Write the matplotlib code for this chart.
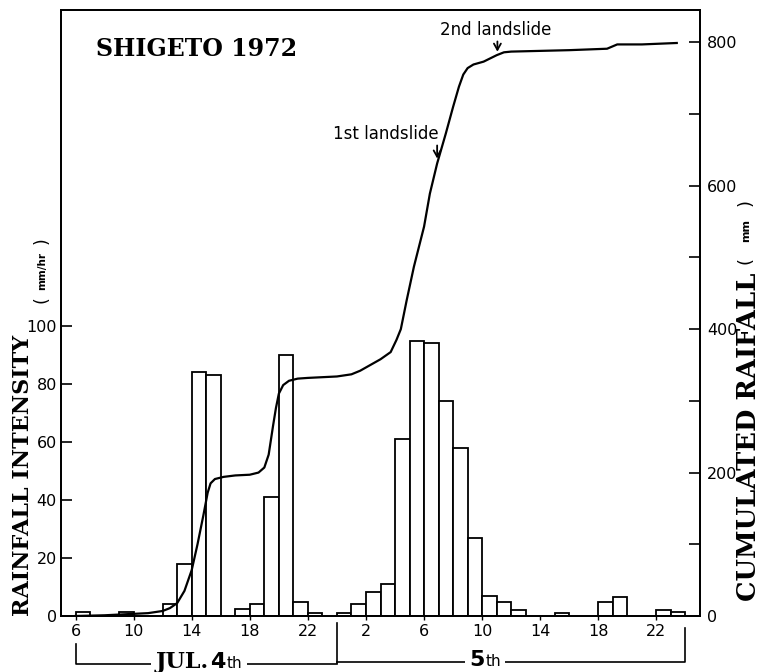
import matplotlib
matplotlib.use("Agg")
import matplotlib.pyplot as plt
from matplotlib.lines import Line2D
from matplotlib.transforms import blended_transform_factory
from matplotlib.offsetbox import TextArea, HPacker, AnnotationBbox

# Hourly rainfall intensity (mm/hr); each bar covers [hour, hour + 1)
# Hours are counted from 0:00 on July 4th (24 = 0:00 on July 5th)
bar_hours = [6, 9, 12, 13, 14, 15, 17, 18, 19, 20, 21, 22,
             24, 25, 26, 27, 28, 29, 30, 31, 32, 33, 34, 35, 36,
             39, 42, 43, 46, 47]
intensity = [1.5, 1.5, 4, 18, 84, 83, 2.3, 4.3, 41, 90, 5, 1.2,
             1, 4, 8.4, 11, 61, 95, 94, 74, 58, 27, 7, 5, 2.2,
             1, 5, 6.5, 2.2, 1.4]

# Cumulated rainfall curve (mm)
cum_hours = [6, 8, 10, 11, 12, 12.5, 13, 13.5, 14, 14.4, 14.8, 15.1, 15.3,
             15.6, 16.2, 17, 18, 18.6, 19, 19.3, 19.6, 19.8, 20.0, 20.3,
             20.7, 21.3, 22, 24, 25, 25.6, 26.3, 27, 27.7, 28.1, 28.4, 28.8,
             29.3, 30.0, 30.4, 30.9, 31.5, 32.0, 32.4, 32.7, 33.0, 33.4,
             34.1, 35.0, 35.5, 36, 38, 40, 42.6, 43.3, 45, 47.4]
cum_rain = [0, 1, 3, 4, 7, 11, 18, 35, 64, 100, 140, 172, 185,
            191, 194, 196, 197, 200, 207, 225, 265, 290, 310, 322,
            328, 331, 332, 334, 337, 342, 350, 358, 368, 385, 400, 440,
            487, 543, 589, 631, 673, 710, 738, 755, 764, 769,
            773, 782, 786, 787, 788, 789, 791, 797, 797, 799]

x_ticks = [6, 10, 14, 18, 22, 26, 30, 34, 38, 42, 46]
x_labels = ["6", "10", "14", "18", "22", "2", "6", "10", "14", "18", "22"]
left_ticks = [0, 20, 40, 60, 80, 100]
right_ticks = [0, 200, 400, 600, 800]
right_minor = [100, 300, 500, 700]

landslides = {"1st landslide": 30.9, "2nd landslide": 35.05}
day_bounds = [6, 24, 48]

W, H = 759, 672
fig = plt.figure(figsize=(W / 100, H / 100), dpi=100)
ax = fig.add_axes([61 / W, 1 - 616 / H, (700 - 61) / W, (616 - 10) / H])
ax.set_xlim(5, 49)
ax.set_ylim(0, 209)

ax.bar(bar_hours, intensity, width=1.0, align="edge", facecolor="white",
       edgecolor="black", linewidth=1.3, zorder=2)

for s in ax.spines.values():
    s.set_linewidth(1.3)

ax.set_xticks(x_ticks)
ax.set_xticklabels(x_labels)
ax.set_yticks(left_ticks)
ax.tick_params(axis="x", direction="out", length=3, width=1, pad=3,
               labelsize=11.5)
ax.tick_params(axis="y", direction="in", length=8, width=1.2, pad=3,
               labelsize=11.5)

ax2 = ax.twinx()
ax2.set_ylim(0, 845)
ax2.set_yticks(right_ticks)
ax2.set_yticks(right_minor, minor=True)
ax2.tick_params(axis="y", which="both", direction="in", length=8, width=1.2,
                pad=5, labelsize=11.5)
for s in ax2.spines.values():
    s.set_linewidth(1.3)

ax2.plot(cum_hours, cum_rain, color="black", linewidth=1.6, zorder=3)

# Landslide markers
h1 = landslides["1st landslide"]
ax2.annotate("", xy=(h1, 634), xytext=(h1, 660),
             arrowprops=dict(arrowstyle="->,head_length=0.45,head_width=0.25",
                             lw=1.3, color="black"))
ax2.text(h1 + 0.1, 665, "1st landslide", ha="right", va="baseline",
         fontsize=12, family="DejaVu Sans")
h2 = landslides["2nd landslide"]
ax2.annotate("", xy=(h2, 783), xytext=(h2, 805),
             arrowprops=dict(arrowstyle="->,head_length=0.45,head_width=0.25",
                             lw=1.3, color="black"))
ax2.text(h2 - 0.1, 810, "2nd landslide", ha="center", va="baseline",
         fontsize=12, family="DejaVu Sans")

# Station title
ax.text(0.054, 0.935, "SHIGETO 1972", transform=ax.transAxes,
        family="DejaVu Serif", weight="bold", fontsize=17,
        ha="left", va="center")


def fy(p):
    return 1 - p / H


# Axis titles
fig.text(23 / W, fy(475), "RAINFALL INTENSITY", rotation=90, ha="center",
         va="center", family="DejaVu Serif", weight="bold", fontsize=16)
fig.text(42 / W, fy(300), "(", rotation=90, ha="center", va="center",
         fontsize=12.5)
fig.text(42 / W, fy(271), "mm/hr", rotation=90, ha="center", va="center",
         fontsize=7.5, weight="bold")
fig.text(42 / W, fy(241), ")", rotation=90, ha="center", va="center",
         fontsize=12.5)

fig.text(748 / W, fy(437), "CUMULATED RAIFALL", rotation=90, ha="center",
         va="center", family="DejaVu Serif", weight="bold", fontsize=18.5)
fig.text(746 / W, fy(260), "(", rotation=90, ha="center", va="center",
         fontsize=13)
fig.text(746 / W, fy(231), "mm", rotation=90, ha="center", va="center",
         fontsize=8, weight="bold")
fig.text(746 / W, fy(202), ")", rotation=90, ha="center", va="center",
         fontsize=13)

# Day brackets below the time axis
trans = blended_transform_factory(ax.transData, fig.transFigure)
lk = dict(color="black", linewidth=1.2, transform=trans)
fig.add_artist(Line2D([day_bounds[0], day_bounds[0], day_bounds[1]],
                      [fy(644), fy(664), fy(664)], **lk))
fig.add_artist(Line2D([day_bounds[1], day_bounds[1]],
                      [fy(623), fy(663)], **lk))
fig.add_artist(Line2D([day_bounds[1], day_bounds[2], day_bounds[2]],
                      [fy(662), fy(662), fy(628)], **lk))


def day_label(parts, x, y):
    boxes = [TextArea(t, textprops=p) for t, p in parts]
    pack = HPacker(children=boxes, align="baseline", pad=0, sep=1)
    ab = AnnotationBbox(pack, (x, y), xycoords=trans, frameon=True,
                        box_alignment=(0.5, 0.5), pad=0.3,
                        bboxprops=dict(facecolor="white", edgecolor="none"))
    fig.add_artist(ab)


big_serif = dict(family="DejaVu Serif", weight="bold", size=16)
big_sans = dict(family="DejaVu Sans", weight="bold", size=16)
small = dict(family="DejaVu Sans", size=11)
day_label([("JUL.", big_serif), ("4", big_sans), ("th", small)],
          14.5, fy(662))
day_label([("5", big_sans), ("th", small)], 34.2, fy(660))

fig.savefig("out.png", dpi=100)
